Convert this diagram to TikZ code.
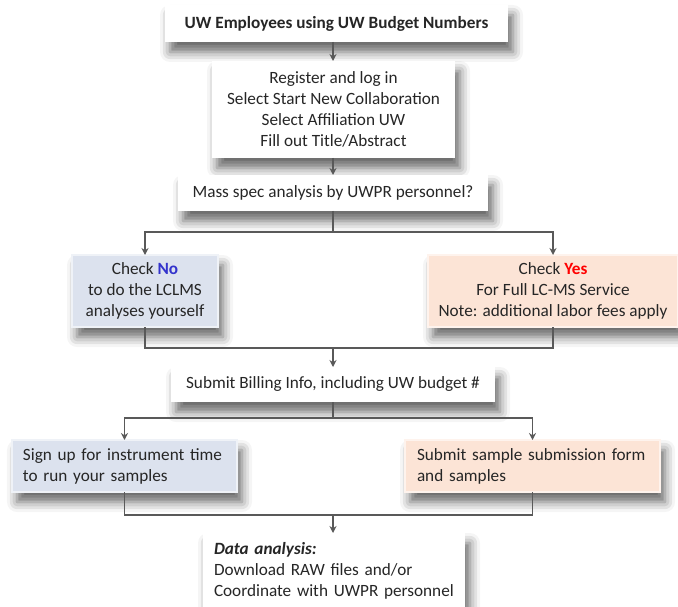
\documentclass[tikz,border=0pt]{standalone}
\usepackage{fontspec}
\setmainfont{Carlito}
\usetikzlibrary{arrows.meta,shadows.blur}
\definecolor{bluebox}{HTML}{DCE2EE}
\definecolor{peachbox}{HTML}{FCE4D6}
\definecolor{lineg}{HTML}{595959}
\definecolor{nocol}{HTML}{3333CC}
\definecolor{yescol}{HTML}{FF0000}
\begin{document}
\begin{tikzpicture}[x=1pt,y=-1pt,
  box/.style={anchor=north west, inner sep=0pt, outer sep=0pt,
    font=\fontsize{17.2}{21}\selectfont, text=black!85,
    blur shadow={shadow xshift=5pt,shadow yshift=-10pt,shadow blur radius=10pt,shadow opacity=60}},
  wbox/.style={box, fill=white},
  bbox/.style={box, fill=bluebox, draw=white!55!bluebox, line width=2pt},
  pbox/.style={box, fill=peachbox, draw=white!55!peachbox, line width=2pt},
  conn/.style={draw=lineg, line width=1.6pt},
  arr/.style={conn, -{Stealth[length=7pt,width=7pt]}}]
\useasboundingbox (0,0) rectangle (678,607);

\node[wbox, minimum width=343pt, minimum height=37pt, align=center] (top) at (165,5)
  {\textbf{UW Employees using UW Budget Numbers}};
\node[wbox, minimum width=243pt, minimum height=97pt, align=center] (reg) at (212,61)
  {Register and log in\\Select Start New Collaboration\\Select Affiliation UW\\Fill out Title/Abstract};
\node[wbox, minimum width=310pt, minimum height=36pt, align=center] (q) at (178,175)
  {Mass spec analysis by UWPR personnel?};
\node[bbox, minimum width=146pt, minimum height=72pt, align=center] (no) at (72,255)
  {Check {\color{nocol}\textbf{No}}\\to do the LCLMS\\analyses yourself};
\node[pbox, minimum width=250pt, minimum height=72pt, align=center] (yes) at (428,255)
  {Check {\color{yescol}\textbf{Yes}}\\For Full LC-MS Service\\Note: additional labor fees apply};
\node[wbox, minimum width=324pt, minimum height=35pt, align=center] (bill) at (171,367)
  {Submit Billing Info, including UW budget \#};
\node[bbox, inner xsep=11pt, text width=203pt, minimum height=52pt, align=left] (sign) at (12,440)
  {Sign up for instrument time\\to run your samples};
\node[pbox, inner xsep=12pt, text width=231pt, minimum height=52pt, align=left] (sub) at (405,440)
  {Submit sample submission form\\and samples};
\node[wbox, inner xsep=11pt, inner ysep=9pt, text width=240pt, align=left] (data) at (203,533)
  {\textbf{\textit{Data analysis:}}\\Download RAW files and/or\\Coordinate with UWPR personnel};

\coordinate (s1) at (333,232);
\coordinate (m1) at (333,348);
\coordinate (s2) at (333,418);
\coordinate (m2) at (333,515);

\draw[arr] (top.south -| q.north) -- (reg.north -| q.north);
\draw[arr] (reg.south -| q.north) -- (q.north);
\draw[conn] (q.south) -- (s1);
\draw[arr] (s1) -| (no.north);
\draw[arr] (s1) -| (yes.north);
\draw[conn] (no.south) |- (m1) -| (yes.south);
\draw[arr] (m1) -- (bill.north);
\draw[conn] (bill.south) -- (s2);
\draw[arr] (s2) -| (sign.north);
\draw[arr] (s2) -| (sub.north);
\draw[conn] (sign.south) |- (m2) -| (sub.south);
\draw[arr] (m2) -- (m2 |- data.north);
\end{tikzpicture}
\end{document}
